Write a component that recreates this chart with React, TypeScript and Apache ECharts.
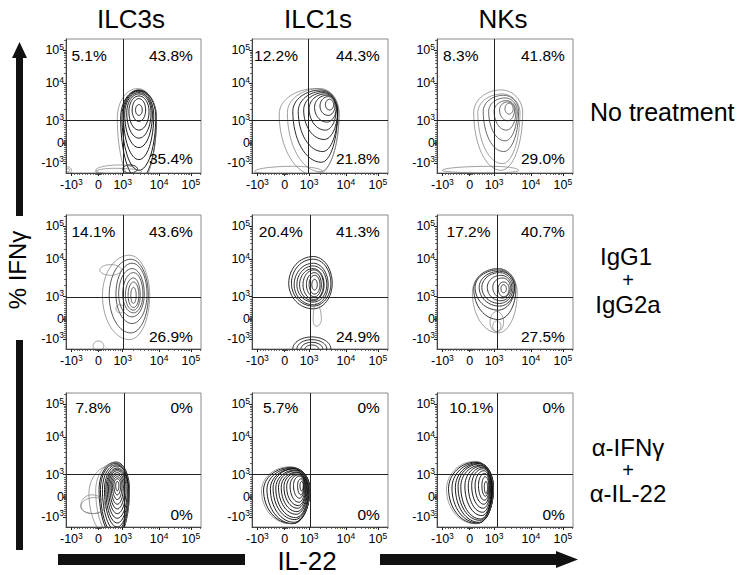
import React, { useEffect, useRef } from 'react';
import * as echarts from 'echarts';

// ---------- data ----------
const cellTypes = ['ILC3s', 'ILC1s', 'NKs'];
const treatments = [['No treatment'], ['IgG1', '+', 'IgG2a'], ['α-IFNγ', '+', 'α-IL-22']];
const xAxisName = 'IL-22';
const yAxisName = '% IFNγ';

// biexponential display positions (0-100 display units) of the decade ticks
const tickBase = ['-10', '0', '10', '10', '10'];
const tickExp = ['3', '', '3', '4', '5'];
const xTickPos = [4, 24, 42, 69, 92.5];
const yTickPos = [7.5, 22.5, 39, 67, 91.5];

// quadrant gates (display units), row-major: ILC3s, ILC1s, NKs per treatment
const gateX = [42.5, 41.5, 42, 42.5, 42.5, 44, 43, 42.5, 44];
const gateY = [39, 39, 39, 38.5, 38.5, 38.5, 39.5, 39.5, 39.5];

// quadrant percentages
const pctUpperLeft = [5.1, 12.2, 8.3, 14.1, 20.4, 17.2, 7.8, 5.7, 10.1];
const pctUpperRight = [43.8, 44.3, 41.8, 43.6, 41.3, 40.7, 0, 0, 0];
const pctLowerRight = [35.4, 21.8, 29.0, 26.9, 24.9, 27.5, 0, 0, 0];

// contour rings: [cx, cy, leftR, rightR, topR, bottomR] in display units
const ilc3None = [
  [54, 47, 2.5, 2.5, 4, 4], [54, 47, 5, 5, 8.5, 8.5], [54, 46, 7.4, 7.5, 11.5, 14],
  [54, 45, 9, 9, 14, 19], [54, 44, 10.5, 10, 16, 25], [54, 43, 11.5, 11, 18, 33],
  [54, 42, 12.5, 12.5, 19.5, 40], [54, 41, 13.5, 13, 21, 46], [47, 3, 5, 6, 3, 3],
  [53, 41, 15, 14, 22, 50], [40, 2, 18, 12, 4, 3], [36, 1, 14, 20, 2.5, 2],
  [1.5, 2, 2.5, 2.5, 2.5, 2.5], [1.5, 2, 1.2, 1.2, 1.2, 1.2],
];
const ilc1None = [
  [57, 51, 3, 3, 4, 4], [56, 50, 6, 5, 7, 7], [55, 49, 9, 7, 9, 11],
  [54, 48, 12, 8, 11, 16], [53, 47, 15, 10, 13, 22], [52, 46, 18, 11, 15, 30],
  [51, 46, 21, 12, 16, 38], [50, 45, 24, 14, 18, 44], [47, 44, 27, 17, 19, 46],
  [30, 1, 28, 22, 4, 2],
];
const nkNone = [
  [53, 48, 3, 3, 4, 4], [52, 47, 6, 5, 6, 8], [51, 46, 9, 7, 8, 14],
  [50, 46, 12, 9, 10, 22], [49, 46, 15, 11, 12, 30], [48, 45, 18, 13, 14, 38],
  [47, 45, 20, 16, 17, 43], [40, 2, 36, 20, 3, 2],
];
const ilc3Iso = [
  [50, 40, 2, 2, 6, 6], [50, 40, 4, 4, 10, 9], [50, 40, 6, 5, 13, 11],
  [50, 41, 8, 7, 16, 14], [49, 41, 10, 9, 19, 17], [49, 41, 12, 11, 23, 22],
  [48, 40, 16, 13, 27, 28], [47, 40, 20, 15, 30, 33],
  [33, 59, 8, 8, 4, 4], [24, 2, 4, 4, 4, 3], [40, 30, 3, 3, 3, 3],
];
const ilc1Iso = [
  [46, 48, 2, 2, 4, 4], [46, 48, 4, 4, 7, 7], [46, 48, 6, 5, 9, 9],
  [45.5, 48, 8, 7, 11, 11], [45, 48, 10, 8, 12, 12], [45, 48, 12, 10, 14, 13],
  [45, 48, 14, 11, 16, 15], [45, 49, 16, 13, 18, 17], [45, 49, 18, 14, 20, 19],
  [44, 0, 5, 5, 3, 3], [44, 0, 8, 8, 5, 5], [44, 0, 11, 11, 7, 7], [44, 0, 14, 14, 9, 9],
  [47, 22, 2, 4, 12, 5],
];
const nkIso = [
  [49, 45, 2, 2, 3, 3], [49, 45, 4, 4, 5, 6], [48, 46, 7, 6, 7, 8],
  [47, 46, 10, 8, 9, 10], [46, 46, 13, 10, 11, 12], [46, 46, 15, 11, 12, 14],
  [45, 46, 17, 12, 13, 17], [45, 45, 18, 13, 15, 23], [45, 42, 19, 14, 18, 30],
  [44, 17, 3, 3, 4, 4], [44, 20, 5, 5, 8, 7],
];
const ilc3Block = [
  [38, 31, 1.2, 1.2, 3, 4], [38, 31, 2.5, 2.5, 5, 7], [38, 30.5, 3.5, 3.5, 7, 10],
  [38, 30, 4.5, 4.5, 9, 13], [38, 29.5, 5.5, 5.5, 11, 16], [38, 29, 6.5, 6.5, 13, 19],
  [38, 28.5, 7.5, 7.5, 14.5, 22], [38, 28, 8.5, 8, 16, 25], [38, 28, 9.5, 8.5, 17.5, 28],
  [37.5, 28, 10.5, 9, 18.5, 31], [37, 28, 11.5, 9.5, 19.5, 34], [37, 28, 12.5, 10, 20.5, 36],
  [36, 27, 14, 11, 21, 35], [34, 25, 17, 12, 21, 33],
  [21, 15, 10, 8, 7, 5], [19, 16, 8, 10, 8, 6],
];
const ilc1Block = [
  [36.5, 31, 1.2, 1.2, 3, 4], [36, 31, 2.5, 2, 5, 7], [35, 31, 4.5, 3.5, 7, 9.5],
  [34.5, 30.5, 6.5, 4.5, 8.5, 12], [34, 30, 8.5, 5.5, 9.5, 14], [33.5, 30, 10, 6.5, 10.5, 16],
  [33, 29.5, 11.5, 7.5, 11.5, 18], [32.5, 29.5, 13, 8.5, 12.5, 20], [32, 29, 14.5, 9.5, 13.5, 22],
  [31.5, 29, 16, 10.5, 14.5, 23.5], [31, 28.5, 17.5, 11.5, 15, 25], [30, 28, 19, 12.5, 16, 25.5],
  [29, 27.5, 20.5, 13.5, 17, 25], [28, 27, 21, 14.5, 18, 24.5],
];
const nkBlock = [
  [36, 30, 1.2, 1.2, 4, 5], [35.5, 31, 2.5, 2.5, 6.5, 8], [35, 31, 4.5, 3.5, 9, 11],
  [34.5, 31, 6.5, 4.5, 11, 14], [34, 31, 8.5, 5.5, 12.5, 17], [33.5, 30.5, 10.5, 6.5, 14, 19.5],
  [33, 30.5, 12.5, 7.5, 15, 22], [32, 30, 14.5, 8.5, 16, 24], [31.5, 30, 16, 9.5, 17, 25],
  [31, 29.5, 17.5, 10.5, 18, 26], [30, 29, 19, 11.5, 19, 26], [29, 28.5, 20.5, 12.5, 20, 26],
  [28, 28, 21, 13.5, 21, 25.5],
];
const panelRings = [ilc3None, ilc1None, nkNone, ilc3Iso, ilc1Iso, nkIso, ilc3Block, ilc1Block, nkBlock];

// ---------- style ----------
const FONT = '"Liberation Sans", Arial, Helvetica, sans-serif';
const colLeft = [66, 252, 437];
const colWidth = [135, 136, 136];
const rowTop = [39, 215, 393];
const rowHeight = 134;
const ringColor = ['#000', '#111', '#555', '#444', '#111', '#222', '#000', '#000', '#000'];
const lightFrom = [9, 7, 5, 7, 13, 8, 12, 13, 12];
const ulX = [4, 1.5, 4.5, 4, 5, 7, 7, 8, 9];

function minorTicks(pos: number[]) {
  const out: number[] = [];
  const [pm, p0, p3, p4, p5] = pos;
  for (let k = 2; k <= 9; k++) {
    out.push(p3 + (p4 - p3) * Math.log10(k));
    out.push(p4 + (p5 - p4) * Math.log10(k));
  }
  out.push(p5 + (p5 - p4) * Math.log10(2));
  for (let k = 1; k <= 9; k++) {
    out.push(p0 + (p3 - p0) * (k / 10));
    out.push(p0 - (p0 - pm) * (k / 10));
  }
  [-1.6, -1.2, -0.8, -0.4, 0.4, 0.8, 1.2, 1.6].forEach((d) => out.push(p0 + d));
  return out.filter((v) => v > 0 && v < 100);
}

function tickFormatter(pos: number[]) {
  return (v: number) => {
    let best = 0;
    pos.forEach((p, i) => {
      if (Math.abs(p - v) < Math.abs(pos[best] - v)) best = i;
    });
    return tickExp[best] ? `{b|${tickBase[best]}}{s|${tickExp[best]}}` : `{b|${tickBase[best]}}`;
  };
}

const richLabels = {
  b: { fontSize: 12.5, fontFamily: FONT, color: '#000', lineHeight: 16 },
  s: { fontSize: 8.5, fontFamily: FONT, color: '#000', lineHeight: 8, verticalAlign: 'top' },
};

function fmtPct(v: number) {
  return v === 0 ? '0%' : v.toFixed(1) + '%';
}

function buildOption() {
  const grid: any[] = [];
  const xAxis: any[] = [];
  const yAxis: any[] = [];
  const series: any[] = [];
  const minX = minorTicks(xTickPos);
  const minY = minorTicks(yTickPos);
  for (let i = 0; i < 9; i++) {
    const r = Math.floor(i / 3);
    const c = i % 3;
    grid.push({
      left: colLeft[c], top: rowTop[r], width: colWidth[c], height: rowHeight,
      show: true, borderColor: '#8a8a8a', borderWidth: 1, containLabel: false,
    });
    xAxis.push({
      gridIndex: i, type: 'value', min: 0, max: 100, position: 'bottom',
      axisLine: { show: true, onZero: false, lineStyle: { color: '#444', width: 1 } },
      axisTick: { show: true, customValues: xTickPos, length: 3, lineStyle: { color: '#222' } },
      axisLabel: { customValues: xTickPos, formatter: tickFormatter(xTickPos), rich: richLabels, margin: 4 },
      splitLine: { show: false },
    });
    xAxis.push({
      gridIndex: i, type: 'value', min: 0, max: 100, position: 'bottom',
      axisLine: { show: false },
      axisTick: { show: true, customValues: minX, length: 2, lineStyle: { color: '#444', width: 0.8 } },
      axisLabel: { show: false }, splitLine: { show: false },
    });
    yAxis.push({
      gridIndex: i, type: 'value', min: 0, max: 100, position: 'left',
      axisLine: { show: true, onZero: false, lineStyle: { color: '#444', width: 1 } },
      axisTick: { show: true, customValues: yTickPos, length: 3, lineStyle: { color: '#222' } },
      axisLabel: { customValues: yTickPos, formatter: tickFormatter(yTickPos), rich: richLabels, margin: 2 },
      splitLine: { show: false },
    });
    yAxis.push({
      gridIndex: i, type: 'value', min: 0, max: 100, position: 'left',
      axisLine: { show: false },
      axisTick: { show: true, customValues: minY, length: 2, lineStyle: { color: '#444', width: 0.8 } },
      axisLabel: { show: false }, splitLine: { show: false },
    });
    const col = ringColor[i];
    const lf = lightFrom[i];
    series.push({
      type: 'custom', xAxisIndex: 2 * i, yAxisIndex: 2 * i, clip: true, silent: true,
      data: panelRings[i],
      renderItem: (params: any, api: any) => {
        const cx = api.value(0), cy = api.value(1);
        const l = api.value(2), rr = api.value(3), t = api.value(4), b = api.value(5);
        const pts: number[][] = [];
        const N = 64;
        for (let k = 0; k < N; k++) {
          const a = (2 * Math.PI * k) / N;
          const co = Math.cos(a), si = Math.sin(a);
          pts.push(api.coord([cx + co * (co >= 0 ? rr : l), cy + si * (si >= 0 ? t : b)]));
        }
        const light = params.dataIndex >= lf;
        return {
          type: 'polygon', shape: { points: pts },
          style: { fill: 'none', stroke: light ? '#777' : col, lineWidth: light ? 0.7 : 0.9 },
        };
      },
    });
    series.push({
      type: 'scatter', xAxisIndex: 2 * i, yAxisIndex: 2 * i, symbolSize: 0, silent: true,
      itemStyle: { opacity: 1 },
      label: {
        show: true, position: 'inside', formatter: (p: any) => p.name,
        fontSize: 15.5, fontFamily: FONT, color: '#000', opacity: 1,
      },
      data: [
        { name: fmtPct(pctUpperLeft[i]), value: [ulX[i], r === 2 ? 89.5 : 88], label: { align: 'left' } },
        { name: fmtPct(pctUpperRight[i]), value: [94, r === 2 ? 89.5 : 88], label: { align: 'right' } },
        { name: fmtPct(pctLowerRight[i]), value: [94, r === 0 ? 11 : 9.5], label: { align: 'right' } },
      ],
      markLine: {
        silent: true, symbol: 'none', label: { show: false }, animation: false,
        lineStyle: { color: '#222', width: 1, type: 'solid' },
        data: [{ xAxis: gateX[i] }, { yAxis: gateY[i] }],
      },
    });
  }

  const txt = (text: string, x: number, y: number, size: number, align = 'center', rotation = 0) => ({
    type: 'text', x, y, rotation, silent: true,
    style: { text, fontSize: size, fontFamily: FONT, fill: '#000', align, verticalAlign: 'middle' },
  });
  const graphic: any[] = [
    txt(cellTypes[0], 131, 19, 26),
    txt(cellTypes[1], 318, 19, 26),
    txt(cellTypes[2], 503, 19, 26),
    txt(treatments[0][0], 590, 112, 25, 'left'),
    txt(treatments[1][0], 626, 256, 24),
    txt(treatments[1][1], 628, 280, 20),
    txt(treatments[1][2], 628, 304, 24),
    txt(treatments[2][0], 628, 447, 24),
    txt(treatments[2][1], 628, 470, 20),
    txt(treatments[2][2], 628, 493, 24),
    txt(xAxisName, 307, 561, 26),
    txt(yAxisName, 17, 270, 24, 'center', Math.PI / 2),
    { type: 'rect', shape: { x: 16, y: 56, width: 7, height: 160 }, style: { fill: '#111' } },
    { type: 'polygon', shape: { points: [[19.5, 42], [12, 58], [27, 58]] }, style: { fill: '#111' } },
    { type: 'rect', shape: { x: 16, y: 340, width: 7, height: 210 }, style: { fill: '#111' } },
    { type: 'rect', shape: { x: 58, y: 554, width: 187, height: 11 }, style: { fill: '#111' } },
    { type: 'rect', shape: { x: 380, y: 554, width: 178, height: 11 }, style: { fill: '#111' } },
    { type: 'polygon', shape: { points: [[578, 559.5], [556, 551], [556, 568]] }, style: { fill: '#111' } },
  ];

  return { animation: false, backgroundColor: '#fff', grid, xAxis, yAxis, series, graphic };
}

export default function App() {
  const ref = useRef<HTMLDivElement>(null);
  useEffect(() => {
    if (!ref.current) return;
    const chart = echarts.init(ref.current, undefined, { renderer: 'svg' });
    chart.setOption(buildOption() as any);
    return () => chart.dispose();
  }, []);
  return (
    <div
      ref={ref}
      style={{ position: 'fixed', left: 0, top: 0, width: 750, height: 575, background: '#fff' }}
    />
  );
}
